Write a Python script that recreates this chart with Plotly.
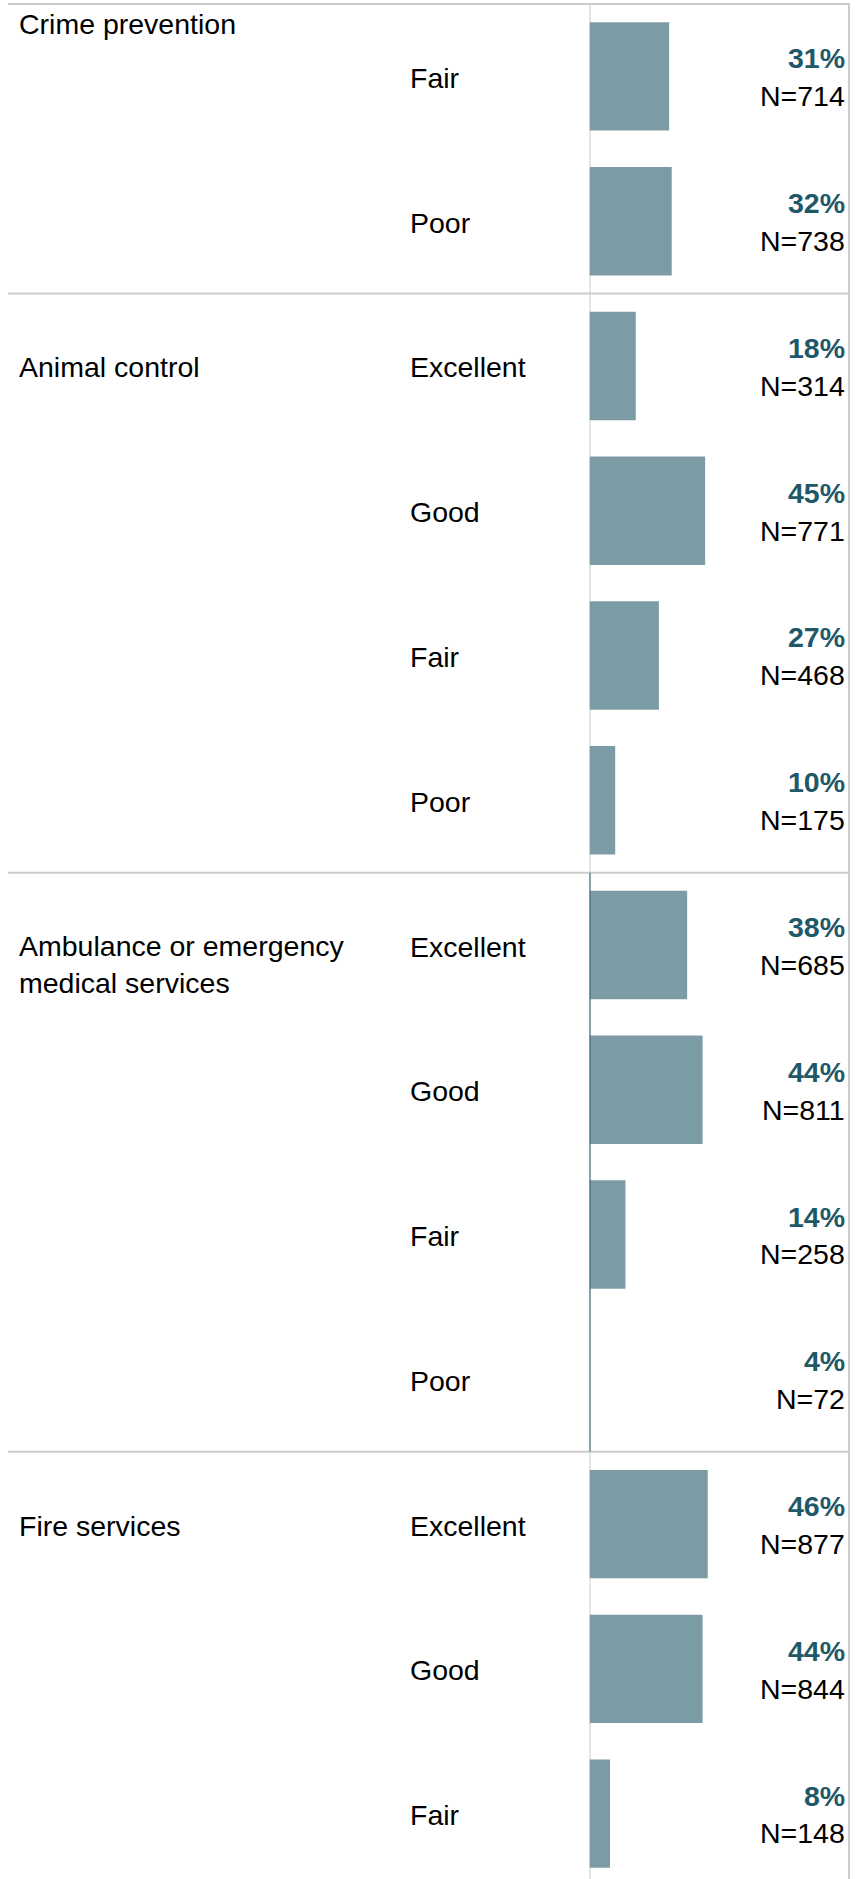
import plotly.graph_objects as go

# ---- data ----
services = ["Crime prevention", "Animal control",
            "Ambulance or emergency<br>medical services", "Fire services"]
service_first_row = [0, 2, 6, 10]          # first visible row of each service
ratings = ["Fair", "Poor",
           "Excellent", "Good", "Fair", "Poor",
           "Excellent", "Good", "Fair", "Poor",
           "Excellent", "Good", "Fair"]
pcts = [31, 32, 18, 45, 27, 10, 38, 44, 14, 4, 46, 44, 8]
counts = [714, 738, 314, 771, 468, 175, 685, 811, 258, 72, 877, 844, 148]

# ---- geometry / style ----
W, H = 863, 1879
ROW_PX = 144.77
FIRST_CENTER = 76.4
PX_PER_UNIT = 2.57
AXIS_X = 589.5
FONT = "Arial, Liberation Sans, sans-serif"
FS = 28.5
BAR = "#7c9ca5"
TEAL = "#1f5868"
DARK_LINE = "#2d6170"
GRID = "#cccccc"
DY = 1.5  # small downward text nudge, px

rows = list(range(len(ratings)))
y_top = -FIRST_CENTER / ROW_PX
y_bot = y_top + H / ROW_PX

colors = [BAR] * len(rows)
colors[9] = "rgba(0,0,0,0)"   # the 4% bar is not drawn in the reference

fig = go.Figure(go.Bar(
    x=pcts, y=rows, orientation="h", width=0.749,
    marker=dict(color=colors, line=dict(width=0)),
    hoverinfo="skip",
))

def px2row(p):
    return p / ROW_PX

ann = []
for si, name in enumerate(services):
    r = service_first_row[si]
    nlines = name.count("<br>") + 1
    yc = r + px2row((nlines - 1) * 36.4 / 2 + DY)
    if si == 0:
        yc = px2row(22 + DY - FIRST_CENTER)
    ann.append(dict(x=17 / W, xref="paper", y=yc, yref="y", text=name,
                    xanchor="left", yanchor="middle", showarrow=False,
                    align="left", font=dict(family=FONT, size=FS, color="#000")))

for r, rt, p, n in zip(rows, ratings, pcts, counts):
    ann.append(dict(x=408 / W, xref="paper", y=r + px2row(DY), yref="y", text=rt,
                    xanchor="left", yanchor="middle", showarrow=False,
                    font=dict(family=FONT, size=FS, color="#000")))
    ann.append(dict(x=847 / W, xref="paper", y=r + px2row(DY - 19.5), yref="y",
                    text=f"<b>{p}%</b>", xanchor="right", yanchor="middle",
                    showarrow=False, font=dict(family=FONT, size=FS, color=TEAL)))
    ann.append(dict(x=847 / W, xref="paper", y=r + px2row(DY + 18.3), yref="y",
                    text=f"N={n}", xanchor="right", yanchor="middle",
                    showarrow=False, font=dict(family=FONT, size=FS, color="#000")))

shapes = []
# horizontal separators at section boundaries
for r in service_first_row:
    yp = 1 - (FIRST_CENTER + ROW_PX * (r - 0.5)) / H
    shapes.append(dict(type="line", xref="paper", yref="paper",
                       x0=8 / W, x1=850 / W, y0=yp, y1=yp,
                       line=dict(color=GRID, width=2)))
# right border
shapes.append(dict(type="line", xref="paper", yref="paper", x0=849 / W, x1=849 / W,
                   y0=0, y1=1 - 4 / H, line=dict(color=GRID, width=2)))
# bar baseline: gray, dark in the ambulance section
shapes.append(dict(type="line", xref="x", yref="y", x0=0, x1=0,
                   y0=-0.5, y1=y_bot, line=dict(color=GRID, width=2), layer="below"))
shapes.append(dict(type="line", xref="x", yref="y", x0=0, x1=0,
                   y0=service_first_row[2] - 0.5, y1=service_first_row[3] - 0.5,
                   line=dict(color=DARK_LINE, width=2)))

fig.update_layout(
    width=W, height=H, margin=dict(l=0, r=0, t=0, b=0),
    paper_bgcolor="white", plot_bgcolor="white", showlegend=False,
    xaxis=dict(domain=[AXIS_X / W, 1], range=[0, (W - AXIS_X) / PX_PER_UNIT],
               visible=False, fixedrange=True),
    yaxis=dict(range=[y_bot, y_top], visible=False, fixedrange=True),
    annotations=ann, shapes=shapes,
)

fig.write_html("out.html", config={"displayModeBar": False},
               post_script="document.body.style.margin='0px';document.body.style.overflow='hidden';")
